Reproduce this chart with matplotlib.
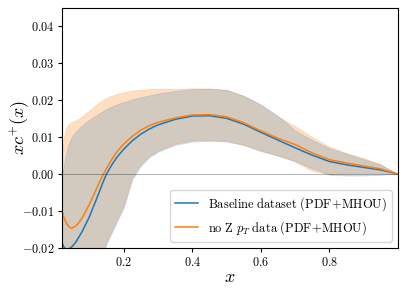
import matplotlib
matplotlib.use("Agg")
import matplotlib.pyplot as plt

plt.rcParams["font.family"] = "serif"
plt.rcParams["font.serif"] = ["cmr10"]
plt.rcParams["mathtext.fontset"] = "cm"
plt.rcParams["axes.formatter.use_mathtext"] = True

# x grid
x = [0.02, 0.025, 0.03, 0.035, 0.04, 0.045, 0.05, 0.06, 0.07, 0.08, 0.09, 0.1,
     0.11, 0.12, 0.13, 0.14, 0.15, 0.165, 0.18, 0.2, 0.225, 0.25, 0.275, 0.3,
     0.35, 0.4, 0.45, 0.5, 0.55, 0.6, 0.65, 0.7, 0.75, 0.8, 0.85, 0.9, 0.95, 1.0]

# Baseline dataset (PDF+MHOU)
base_cv = [-0.0185, -0.0196, -0.0202, -0.0204, -0.0203, -0.0200, -0.0196, -0.0185,
           -0.0170, -0.0154, -0.0135, -0.0116, -0.0093, -0.0070, -0.0046, -0.0022,
           0.0000, 0.0024, 0.0045, 0.0067, 0.0090, 0.0108, 0.0122, 0.0133, 0.0148,
           0.0157, 0.0158, 0.0151, 0.0135, 0.0113, 0.0092, 0.0071, 0.0051, 0.0034,
           0.0025, 0.0018, 0.0011, 0.0]
base_up = [-0.0010, 0.0020, 0.0045, 0.0066, 0.0082, 0.0094, 0.0103, 0.0115,
           0.0124, 0.0132, 0.0140, 0.0147, 0.0153, 0.0159, 0.0165, 0.0171, 0.0176,
           0.0183, 0.0189, 0.0195, 0.0202, 0.0208, 0.0213, 0.0218, 0.0225, 0.0230,
           0.0231, 0.0228, 0.0212, 0.0188, 0.0158, 0.0118, 0.0092, 0.0070, 0.0055,
           0.0040, 0.0025, 0.0]
base_lo = [-0.050, -0.049, -0.048, -0.047, -0.046, -0.045, -0.044, -0.042,
           -0.040, -0.038, -0.036, -0.034, -0.031, -0.028, -0.025, -0.0218, -0.0190,
           -0.0160, -0.0130, -0.0092, -0.0015, 0.0022, 0.0045, 0.0060, 0.0079,
           0.0088, 0.0090, 0.0088, 0.0078, 0.0062, 0.0050, 0.0035, 0.0015, -0.0002,
           -0.0004, -0.0004, -0.0002, 0.0]

# no Z pT data (PDF+MHOU)
nozpt_cv = [-0.0100, -0.0115, -0.0127, -0.0136, -0.0142, -0.0146, -0.0146, -0.0141,
            -0.0131, -0.0117, -0.0100, -0.0082, -0.0062, -0.0042, -0.0021, -0.0002,
            0.0015, 0.0039, 0.0060, 0.0081, 0.0102, 0.0119, 0.0131, 0.0140, 0.0152,
            0.0160, 0.0161, 0.0155, 0.0139, 0.0117, 0.0097, 0.0080, 0.0057, 0.0039,
            0.0030, 0.0022, 0.0014, 0.0]
nozpt_up = [0.0060, 0.0095, 0.0118, 0.0130, 0.0136, 0.0139, 0.0141, 0.0145,
            0.0150, 0.0157, 0.0165, 0.0172, 0.0180, 0.0188, 0.0195, 0.0201, 0.0206,
            0.0212, 0.0217, 0.0221, 0.0226, 0.0228, 0.0230, 0.0231, 0.0231, 0.0232,
            0.0232, 0.0228, 0.0212, 0.0188, 0.0155, 0.0130, 0.0100, 0.0074, 0.0057,
            0.0043, 0.0026, 0.0]
nozpt_lo = [-0.049, -0.048, -0.047, -0.046, -0.045, -0.044, -0.043, -0.041,
            -0.039, -0.037, -0.035, -0.033, -0.030, -0.027, -0.024, -0.0212, -0.0185,
            -0.0155, -0.0125, -0.0086, -0.0009, 0.0027, 0.0049, 0.0063, 0.0082,
            0.0091, 0.0092, 0.0090, 0.0080, 0.0064, 0.0050, 0.0034, 0.0008, 0.0000,
            0.0002, 0.0003, 0.0002, 0.0]

fig = plt.figure(figsize=(4.07, 2.91), dpi=100)
ax = fig.add_axes([0.152, 0.148, 0.826, 0.825])

ax.fill_between(x, nozpt_lo, nozpt_up, color="C1", alpha=0.25, lw=0.5)
ax.fill_between(x, base_lo, base_up, color="C0", alpha=0.2, lw=0.5)
ax.plot(x, base_cv, color="C0", lw=1.1,
        label=r"$\mathrm{Baseline\ dataset\ (PDF\!+\!MHOU)}$")
ax.plot(x, nozpt_cv, color="C1", lw=1.1,
        label=r"$\mathrm{no\ Z}\ p_T\ \mathrm{data\ (PDF\!+\!MHOU)}$")
ax.axhline(0, color="k", lw=0.6, alpha=0.35)

ax.set_xlim(0.02, 1.0)
ax.set_ylim(-0.02, 0.045)
ax.set_xticks([0.2, 0.4, 0.6, 0.8])
ax.set_yticks([-0.02, -0.01, 0.0, 0.01, 0.02, 0.03, 0.04])
ax.tick_params(labelsize=8.8, length=3, pad=2.5)
ax.set_xlabel(r"$x$", fontsize=13, labelpad=1)
ax.set_ylabel(r"$xc^{+}(x)$", fontsize=13)
ax.yaxis.set_label_coords(-0.09, 0.5)
ax.legend(loc="lower right", fontsize=9, handlelength=1.8)

fig.savefig("out.png", dpi=100)
